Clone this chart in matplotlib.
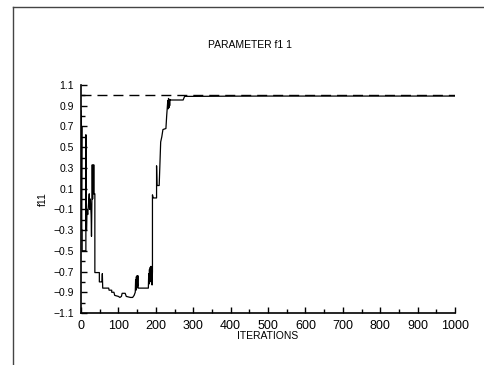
import numpy as np
import matplotlib
matplotlib.use('Agg')
import matplotlib.pyplot as plt
from matplotlib.lines import Line2D
from matplotlib.ticker import MultipleLocator

# trace of parameter f11 (iteration, value)
iterations = [0, 0, 1, 1, 2, 2, 3, 3, 13, 13, 14, 15, 16, 18, 20, 22, 23, 25, 27, 28,
              29, 30, 31, 32, 33, 34, 35, 37, 37, 49, 49, 56, 57, 58, 74, 75, 82, 82,
              88, 90, 100, 104, 108, 110, 118, 121, 132, 138, 142, 145, 146, 147, 148,
              149, 150, 151, 152, 153, 180, 181, 182, 183, 184, 185, 186, 187, 188, 189,
              190, 191, 191, 193, 202, 202, 203, 209, 213, 216, 219, 227, 229, 231, 232,
              233, 234, 235, 236, 237, 238, 240, 273, 277, 300, 400, 500, 600, 700, 800,
              900, 1000]
f11 = [0.85, 0.6, 0.8, -0.1, 0.7, -0.3, -0.3, -0.5, -0.5, 0.62, -0.3, -0.3, -0.1,
       -0.15, -0.05, 0.05, -0.1, 0.0, -0.15, -0.36, -0.05, 0.33, 0.0, 0.3, 0.05, 0.33,
       0.05, 0.05, -0.71, -0.71, -0.8, -0.8, -0.72, -0.86, -0.86, -0.88, -0.88, -0.9,
       -0.9, -0.93, -0.94, -0.95, -0.94, -0.91, -0.91, -0.94, -0.95, -0.95, -0.93, -0.9,
       -0.78, -0.88, -0.75, -0.86, -0.74, -0.84, -0.74, -0.86, -0.86, -0.72, -0.82,
       -0.68, -0.8, -0.66, -0.78, -0.65, -0.8, -0.66, -0.83, -0.7, 0.04, 0.01, 0.01,
       0.32, 0.13, 0.13, 0.55, 0.6, 0.67, 0.68, 0.8, 0.9, 0.95, 0.87, 0.97, 0.88, 0.96,
       0.9, 0.96, 0.955, 0.955, 0.99, 0.99, 0.992, 0.993, 0.993, 0.993, 0.993, 0.993,
       0.993]
true_value = 1.0

x_ticks = list(range(0, 1001, 100))
y_ticks = [-1.1, -0.9, -0.7, -0.5, -0.3, -0.1, 0.1, 0.3, 0.5, 0.7, 0.9, 1.1]

plt.rcParams['font.family'] = ['Liberation Sans', 'DejaVu Sans']
plt.rcParams['axes.unicode_minus'] = True

fig = plt.figure(figsize=(4.84, 3.65), dpi=100)
ax = fig.add_axes([0.1674, 0.1425, 0.7727, 0.6247])

# reference value as a dashed line, then the trace on top
ax.axhline(true_value, color='black', lw=1.0, dashes=(7.2, 4.3))
ax.plot(iterations, f11, color='black', lw=0.9)

ax.set_xlim(0, 1000)
ax.set_ylim(-1.1, 1.1)
ax.set_xticks(x_ticks)
ax.set_yticks(y_ticks)
ax.set_yticklabels([f'{v:.1f}'.replace('-', '\u2212') for v in y_ticks])
ax.xaxis.set_minor_locator(MultipleLocator(50))
ax.yaxis.set_minor_locator(MultipleLocator(0.1))

for side in ['top', 'right']:
    ax.spines[side].set_visible(False)
for side in ['left', 'bottom']:
    ax.spines[side].set_linewidth(1.2)

ax.tick_params(axis='x', which='major', direction='in', length=4, width=1, labelsize=9, pad=5)
ax.tick_params(axis='x', which='minor', direction='in', length=3, width=1)
ax.tick_params(axis='y', which='major', direction='in', length=4, width=1, labelsize=7.5, pad=5)
ax.tick_params(axis='y', which='minor', direction='in', length=3, width=1)

ax.set_xlabel('ITERATIONS', fontsize=7.5, labelpad=-1)
ax.set_ylabel('f11', fontsize=7.5, labelpad=4)

fig.text(250 / 484, 1 - 45 / 365, 'PARAMETER f1 1', ha='center', va='center', fontsize=7.5)

# scanned page frame: left and top edges
fig.add_artist(Line2D([13 / 484, 13 / 484], [0, 1 - 7 / 365], transform=fig.transFigure,
                      color='#444444', lw=1.0))
fig.add_artist(Line2D([13 / 484, 1], [1 - 7 / 365, 1 - 7 / 365], transform=fig.transFigure,
                      color='#444444', lw=1.0))

fig.savefig('out.png', dpi=100)
